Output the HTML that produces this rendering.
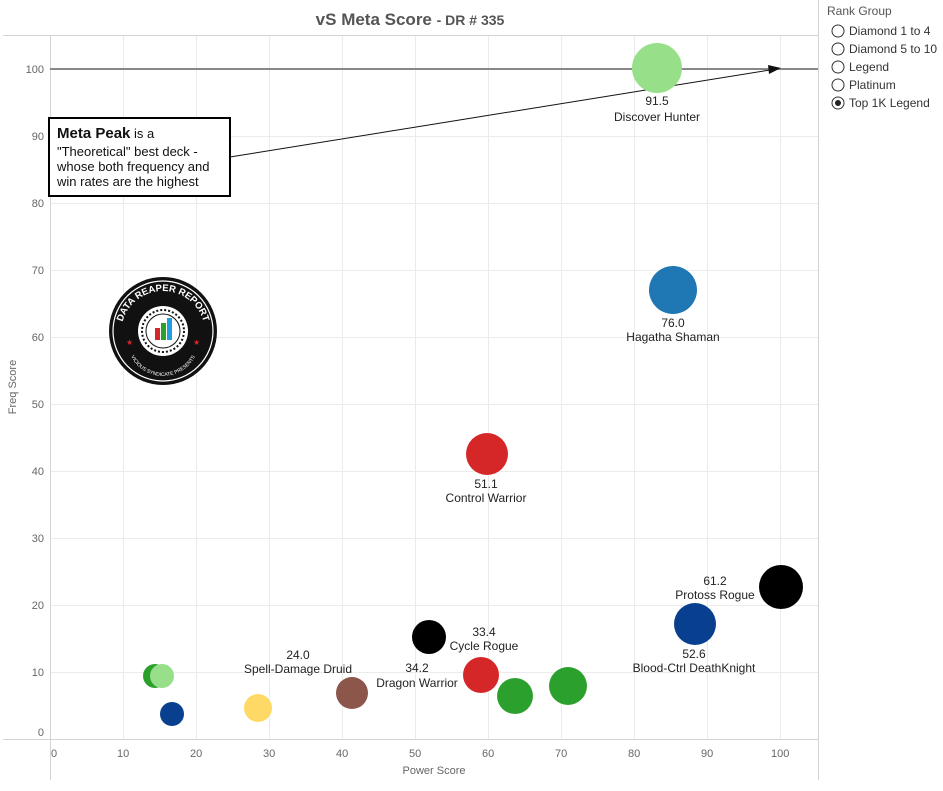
<!DOCTYPE html><html><head><style>body{margin:0;background:#fff;font-family:"Liberation Sans",Arial,sans-serif}</style></head><body>
<svg width="943" height="786" xmlns="http://www.w3.org/2000/svg" font-family="Liberation Sans, Arial, sans-serif">
<defs><path id="arcT" d="M121,333 A42,42 0 0 1 205,333"/><path id="arcB" d="M127,340 A36,36 0 0 0 199,340"/></defs>
<text x="410" y="25" text-anchor="middle" font-size="17" font-weight="bold" fill="#555">vS Meta Score <tspan font-size="14">- DR # 335</tspan></text>
<g stroke="#ebebeb" stroke-width="1">
<line x1="123.5" y1="35" x2="123.5" y2="739"/><line x1="196.5" y1="35" x2="196.5" y2="739"/><line x1="269.5" y1="35" x2="269.5" y2="739"/><line x1="342.5" y1="35" x2="342.5" y2="739"/><line x1="415.5" y1="35" x2="415.5" y2="739"/><line x1="488.5" y1="35" x2="488.5" y2="739"/><line x1="561.5" y1="35" x2="561.5" y2="739"/><line x1="634.5" y1="35" x2="634.5" y2="739"/><line x1="707.5" y1="35" x2="707.5" y2="739"/><line x1="780.5" y1="35" x2="780.5" y2="739"/>
<line x1="50" y1="136.5" x2="818" y2="136.5"/><line x1="50" y1="203.5" x2="818" y2="203.5"/><line x1="50" y1="270.5" x2="818" y2="270.5"/><line x1="50" y1="337.5" x2="818" y2="337.5"/><line x1="50" y1="404.5" x2="818" y2="404.5"/><line x1="50" y1="471.5" x2="818" y2="471.5"/><line x1="50" y1="538.5" x2="818" y2="538.5"/><line x1="50" y1="605.5" x2="818" y2="605.5"/><line x1="50" y1="672.5" x2="818" y2="672.5"/>
</g>
<g stroke="#d4d4d4"><line x1="3" y1="35.5" x2="818" y2="35.5"/><line x1="50.5" y1="35" x2="50.5" y2="780"/><line x1="818.5" y1="0" x2="818.5" y2="780"/><line x1="3" y1="739.5" x2="818" y2="739.5"/></g>
<line x1="50" y1="69" x2="818" y2="69" stroke="#888" stroke-width="2"/>
<g font-size="11" fill="#666" text-anchor="end">
<text x="44" y="73">100</text><text x="44" y="140">90</text><text x="44" y="207">80</text><text x="44" y="274">70</text><text x="44" y="341">60</text><text x="44" y="408">50</text><text x="44" y="475">40</text><text x="44" y="542">30</text><text x="44" y="609">20</text><text x="44" y="676">10</text><text x="44" y="736">0</text>
</g>
<g font-size="11" fill="#666">
<text x="51" y="757">0</text><text x="117" y="757">10</text><text x="190" y="757">20</text><text x="263" y="757">30</text><text x="336" y="757">40</text><text x="409" y="757">50</text><text x="482" y="757">60</text><text x="555" y="757">70</text><text x="628" y="757">80</text><text x="701" y="757">90</text><text x="771" y="757">100</text>
<text x="434" y="774" text-anchor="middle">Power Score</text>
<text transform="translate(16,387) rotate(-90)" text-anchor="middle">Freq Score</text>
</g>
<line x1="230" y1="157" x2="770" y2="70" stroke="#111" stroke-width="1"/>
<polygon points="781,68 768,65 769,74" fill="#111"/>
<rect x="49" y="118" width="181" height="78" fill="#fff" stroke="#000" stroke-width="2"/>
<g font-size="13" fill="#111"><text x="57" y="138"><tspan font-weight="bold" font-size="15">Meta Peak</tspan> is a</text><text x="57" y="156">"Theoretical" best deck -</text><text x="57" y="171">whose both frequency and</text><text x="57" y="186">win rates are the highest</text></g>
<g>
<circle cx="163" cy="331" r="54" fill="#111"/><circle cx="163" cy="331" r="50" fill="none" stroke="#fff" stroke-width="1.2"/>
<circle cx="163" cy="331" r="25" fill="#fff"/><circle cx="163" cy="331" r="21" fill="none" stroke="#111" stroke-width="2" stroke-dasharray="2,2"/><circle cx="163" cy="331" r="17" fill="#fff" stroke="#111" stroke-width="1"/>
<rect x="155" y="328" width="5" height="12" fill="#d62728"/><rect x="161" y="323" width="5" height="17" fill="#2ca02c"/><rect x="167" y="318" width="5" height="22" fill="#1f9fe0"/>
<text font-size="9.5" font-weight="bold" fill="#fff"><textPath href="#arcT" startOffset="50%" text-anchor="middle">DATA REAPER REPORT</textPath></text>
<text font-size="5" fill="#fff"><textPath href="#arcB" startOffset="50%" text-anchor="middle">VICIOUS SYNDICATE PRESENTS</textPath></text>
<text x="126" y="345" font-size="8" fill="#d62728">★</text><text x="193" y="345" font-size="8" fill="#d62728">★</text>
</g>
<g>
<circle cx="657" cy="68" r="25" fill="#98df8a"/><circle cx="673" cy="290" r="24" fill="#1f77b4"/><circle cx="487" cy="454" r="21" fill="#d62728"/>
<circle cx="781" cy="587" r="22" fill="#000"/><circle cx="695" cy="624" r="21" fill="#08408f"/><circle cx="429" cy="637" r="17" fill="#000"/>
<circle cx="481" cy="675" r="18" fill="#d62728"/><circle cx="515" cy="696" r="18" fill="#2ca02c"/><circle cx="568" cy="686" r="19" fill="#2ca02c"/>
<circle cx="352" cy="693" r="16" fill="#8c564b"/><circle cx="258" cy="708" r="14" fill="#ffd966"/><circle cx="172" cy="714" r="12" fill="#08408f"/>
<circle cx="155" cy="676" r="12" fill="#2ca02c"/><circle cx="162" cy="676" r="12" fill="#98df8a"/>
</g>
<g font-size="12" fill="#222" text-anchor="middle">
<text x="657" y="105">91.5</text><text x="657" y="121">Discover Hunter</text>
<text x="673" y="327">76.0</text><text x="673" y="341">Hagatha Shaman</text>
<text x="486" y="488">51.1</text><text x="486" y="502">Control Warrior</text>
<text x="715" y="585">61.2</text><text x="715" y="599">Protoss Rogue</text>
<text x="694" y="658">52.6</text><text x="694" y="672">Blood-Ctrl DeathKnight</text>
<text x="484" y="636">33.4</text><text x="484" y="650">Cycle Rogue</text>
<text x="417" y="672">34.2</text><text x="417" y="687">Dragon Warrior</text>
<text x="298" y="659">24.0</text><text x="298" y="673">Spell-Damage Druid</text>
</g>
<g font-size="12" fill="#333">
<text x="827" y="15" fill="#555">Rank Group</text>
<circle cx="838" cy="31" r="6" fill="#fff" stroke="#333"/><text x="849" y="35">Diamond 1 to 4</text>
<circle cx="838" cy="49" r="6" fill="#fff" stroke="#333"/><text x="849" y="53">Diamond 5 to 10</text>
<circle cx="838" cy="67" r="6" fill="#fff" stroke="#333"/><text x="849" y="71">Legend</text>
<circle cx="838" cy="85" r="6" fill="#fff" stroke="#333"/><text x="849" y="89">Platinum</text>
<circle cx="838" cy="103" r="6" fill="#fff" stroke="#333"/><circle cx="838" cy="103" r="3" fill="#222"/><text x="849" y="107">Top 1K Legend</text>
</g>
</svg></body></html>
